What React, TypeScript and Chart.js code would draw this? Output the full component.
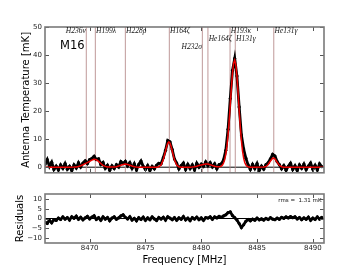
import React, { useEffect, useRef } from 'react';
import { Chart, registerables } from 'chart.js';

Chart.register(...registerables);

// ---- data ----
const FREQ_START = 8466.0; // MHz, first channel
const FREQ_STEP = 0.2; // MHz per channel

const DATA_TEMP = [
  1.0, 2.7, 0.3, 1.8, -0.8, 0.4, -1.0, 0.8, -0.4, 1.3,
  -0.7, 0.3, -1.2, 0.8, -0.3, 1.6, 0.1, 1.5, 2.3, 1.3,
  2.7, 3.1, 3.9, 2.7, 3.0, 1.0, 1.7, -0.4, 0.7, -1.1,
  0.5, -0.5, 0.9, 0.1, 2.0, 1.3, 2.1, 0.5, 1.6, -0.4,
  1.2, -1.0, 1.0, 2.2, 0.3, -0.8, 0.6, -1.2, 0.3, -0.6,
  0.7, 1.4, 1.2, 3.4, 6.0, 9.5, 9.0, 6.3, 2.9, 1.5,
  -0.6, 0.6, 1.5, -0.8, 1.0, -0.5, 0.8, -1.0, 1.4, 0.0,
  1.1, 0.3, 1.9, 0.5, 1.6, 0.1, 1.2, -0.6, 0.9, 1.2,
  2.6, 6.0, 13.5, 24.5, 34.5, 38.8, 32.5, 21.5, 11.5, 6.5,
  3.2, 0.8, -0.8, 1.0, -0.5, 1.3, -1.1, 0.4, -0.7, 0.9,
  1.6, 3.0, 4.6, 4.0, 2.0, 0.9, -0.6, 0.6, -1.1, 0.3,
  1.4, -0.8, 0.5, -1.2, 0.8, -0.4, 1.1, -0.9, 0.4, 1.5,
  -0.7, 0.7, -1.0, 1.2, 0.2,
];

const RESIDUALS = [
  -1.8, -2.5, -0.9, -2.2, -0.6, -1.0, 0.2, -0.5, 0.8, -0.3,
  0.5, -0.8, 0.9, 0.1, 1.2, -0.4, 0.6, -0.7, 0.3, 1.1,
  -0.2, 0.7, 1.4, -0.5, 0.4, -0.9, 0.8, -0.3, 0.5, -1.1,
  0.2, 0.9, -0.4, 0.3, 1.3, 1.9, 0.6, -0.2, 0.9, -0.8,
  0.1, -1.2, 0.4, -0.5, 0.7, -0.9, 0.3, -0.6, 0.8, -0.2,
  -1.0, 0.5, -0.3, 0.6, -0.8, 0.9, 0.2, -0.6, 0.4, -0.9,
  0.3, -0.4, 1.0, -0.7, 0.2, -1.1, 0.4, -0.3, 0.7, -0.6,
  0.3, -0.9, 0.5, 0.2, 0.9, -0.4, 0.8, 0.3, 1.1, 0.6,
  1.3, 1.9, 3.0, 3.4, 1.5, 0.4, -0.8, -2.6, -4.6, -3.2,
  -1.4, -0.5, -1.2, -0.3, -0.9, 0.2, -0.7, -0.2, -0.8, 0.1,
  -0.5, 0.4, -0.3, -0.6, 0.2, -0.4, 0.6, 0.1, 0.8, 0.3,
  1.0, 0.4, 0.9, -0.2, 0.5, -0.6, 0.3, -0.4, 0.7, -0.9,
  0.2, -0.5, 0.8, -0.3, 0.6,
];

const MODEL_FREQ = [
  8466.0, 8468.2, 8468.6, 8468.8, 8469.0, 8469.2, 8469.4, 8469.6, 8469.8, 8470.0,
  8470.2, 8470.4, 8470.5, 8470.6, 8470.8, 8471.0, 8471.2, 8471.4, 8471.6, 8471.8,
  8472.0, 8472.2, 8472.4, 8472.6, 8472.8, 8473.0, 8473.2, 8473.4, 8473.6, 8473.8,
  8474.0, 8474.2, 8474.4, 8474.6, 8475.8, 8476.0, 8476.2, 8476.4, 8476.6, 8476.8,
  8476.9, 8477.0, 8477.1, 8477.2, 8477.3, 8477.4, 8477.6, 8477.8, 8478.0, 8478.2,
  8478.4, 8479.0, 8479.2, 8479.4, 8479.6, 8479.8, 8480.0, 8480.2, 8480.4, 8480.6,
  8480.8, 8481.0, 8481.2, 8481.4, 8481.6, 8481.7, 8481.8, 8481.9, 8482.0, 8482.1,
  8482.2, 8482.3, 8482.4, 8482.5, 8482.6, 8482.7, 8482.8, 8482.9, 8483.0, 8483.1,
  8483.2, 8483.3, 8483.4, 8483.5, 8483.6, 8483.7, 8483.8, 8483.9, 8484.0, 8484.1,
  8484.2, 8484.4, 8484.6, 8485.6, 8485.8, 8486.0, 8486.2, 8486.4, 8486.5, 8486.6,
  8486.8, 8487.0, 8487.2, 8487.4, 8487.6, 8491.0,
];
const MODEL_TEMP = [
  0, 0, 0.04, 0.11, 0.26, 0.52, 0.87, 1.25, 1.64, 2.08,
  2.53, 2.79, 2.78, 2.64, 2.06, 1.31, 0.67, 0.28, 0.09, 0.03,
  0.03, 0.07, 0.19, 0.41, 0.71, 0.98, 1.1, 0.98, 0.71, 0.41,
  0.19, 0.07, 0.02, 0, 0, 0.02, 0.16, 0.8, 2.63, 5.78,
  7.39, 8.57, 9.0, 8.57, 7.39, 5.78, 2.63, 0.8, 0.16, 0.02,
  0, 0, 0.05, 0.15, 0.35, 0.6, 0.8, 0.95, 1.1, 1.1,
  0.9, 0.6, 0.32, 0.18, 0.16, 0.23, 0.39, 0.78, 1.49, 2.69,
  4.58, 7.42, 11.33, 16.4, 22.2, 28.3, 33.55, 37.1, 38.2, 36.5,
  32.4, 26.7, 20.4, 14.4, 9.41, 5.74, 3.23, 1.69, 0.81, 0.36,
  0.15, 0.02, 0, 0.05, 0.26, 0.95, 2.19, 3.21, 3.28, 3.0,
  1.78, 0.67, 0.16, 0.02, 0, 0,
];

const LINE_FREQS = [8469.7, 8470.51, 8473.2, 8477.14, 8480.1, 8480.6, 8482.58, 8483.05, 8486.5];
const LINE_NAMES = ['H236ν', 'H199λ', 'H228ρ', 'H164ζ', 'H232σ', 'He164ζ', 'H193κ', 'H131γ', 'He131γ'];

const X_TICKS = [8470, 8475, 8480, 8485, 8490];
const MAIN_Y_TICKS = [0, 10, 20, 30, 40, 50];
const RES_Y_TICKS = [-10, -5, 0, 5, 10];

const SOURCE_NAME = 'M16';
const RMS_TEXT = 'rms =  1.31 mK';
const MAIN_Y_TITLE = 'Antenna Temperature [mK]';
const RES_Y_TITLE = 'Residuals';
const X_TITLE = 'Frequency [MHz]';

// ---- layout / style (kept apart from the data) ----
const LABEL_ROW = [0, 0, 0, 0, 2, 1, 0, 1, 0];
const LABEL_ALIGN = ['right', 'left', 'left', 'left', 'right', 'left', 'left', 'left', 'left'];
const ROW_BASELINES = [33, 41, 49];
const X_MIN = 8466.0;
const X_MAX = 8491.0;
const MAIN_Y_MIN = -2;
const MAIN_Y_MAX = 50;
const RES_Y_MIN = -12.5;
const RES_Y_MAX = 12.5;

const FONT = 'DejaVu Sans';
const FRAME_COLOR = '#7a7a7a';
const TICK_COLOR = '#555';
const VLINE_COLOR = 'rgba(180,135,135,0.85)';

const FREQS = DATA_TEMP.map((_, i) => FREQ_START + i * FREQ_STEP);

const fmt = (v: number) => (v < 0 ? '\u2212' + Math.abs(v) : String(v));
const setTicks = (values: number[]) => (s: any) => {
  s.ticks = values.map((value) => ({ value }));
};

const frameTicks = {
  id: 'frameTicks',
  afterDatasetsDraw(chart: any) {
    const { ctx, chartArea: a, scales } = chart;
    const xs = scales.x;
    const ys = scales.y;
    ctx.save();
    ctx.strokeStyle = TICK_COLOR;
    ctx.lineWidth = 1;
    ctx.beginPath();
    xs.ticks.forEach((t: any) => {
      const px = Math.round(xs.getPixelForValue(t.value)) + 0.5;
      ctx.moveTo(px, a.bottom);
      ctx.lineTo(px, a.bottom - 4);
      ctx.moveTo(px, a.top);
      ctx.lineTo(px, a.top + 4);
    });
    ys.ticks.forEach((t: any) => {
      const py = Math.round(ys.getPixelForValue(t.value)) + 0.5;
      ctx.moveTo(a.left, py);
      ctx.lineTo(a.left + 4, py);
      ctx.moveTo(a.right, py);
      ctx.lineTo(a.right - 4, py);
    });
    ctx.stroke();
    ctx.strokeStyle = FRAME_COLOR;
    ctx.lineWidth = 1.6;
    ctx.strokeRect(a.left, a.top, a.right - a.left, a.bottom - a.top);
    ctx.restore();
  },
};

const mainTexts = {
  id: 'mainTexts',
  afterDraw(chart: any) {
    const { ctx, scales } = chart;
    const xs = scales.x;
    ctx.save();
    ctx.fillStyle = '#111';
    ctx.font = `italic 7.5px "Liberation Serif"`;
    ctx.textBaseline = 'alphabetic';
    LINE_FREQS.forEach((f, i) => {
      const px = xs.getPixelForValue(f);
      const right = LABEL_ALIGN[i] === 'right';
      ctx.textAlign = right ? 'right' : 'left';
      ctx.fillText(LINE_NAMES[i], right ? px - 0.5 : px + 0.7, ROW_BASELINES[LABEL_ROW[i]]);
    });
    ctx.font = `11.5px "${FONT}"`;
    ctx.textAlign = 'left';
    ctx.fillStyle = '#000';
    ctx.fillText(SOURCE_NAME, 60, 49);
    ctx.restore();
  },
};

const resTexts = {
  id: 'resTexts',
  afterDraw(chart: any) {
    const { ctx, chartArea: a } = chart;
    ctx.save();
    ctx.fillStyle = '#111';
    ctx.font = `5.5px "${FONT}"`;
    ctx.textAlign = 'right';
    ctx.textBaseline = 'alphabetic';
    ctx.fillText(RMS_TEXT, a.right - 2.5, a.top + 7.7);
    ctx.restore();
  },
};

export default function App() {
  const mainRef = useRef<HTMLCanvasElement>(null);
  const resRef = useRef<HTMLCanvasElement>(null);

  useEffect(() => {
    document.body.style.margin = '0';
    const spectrum = FREQS.map((x, i) => ({ x, y: DATA_TEMP[i] }));
    const model = MODEL_FREQ.map((x, i) => ({ x, y: MODEL_TEMP[i] }));
    const resid = FREQS.map((x, i) => ({ x, y: RESIDUALS[i] }));

    const tickFont = { family: FONT, size: 7 };
    const titleFont = { family: FONT, size: 10 };
    const noGrid = { display: false, drawTicks: false };

    const c1 = new Chart(mainRef.current as HTMLCanvasElement, {
      type: 'line',
      data: {
        datasets: [
          {
            data: [{ x: X_MIN, y: 0 }, { x: X_MAX, y: 0 }],
            borderColor: '#000',
            borderWidth: 1,
            pointRadius: 0,
            order: 4,
          },
          ...LINE_FREQS.map((f) => ({
            data: [{ x: f, y: MAIN_Y_MIN }, { x: f, y: MAIN_Y_MAX }],
            borderColor: VLINE_COLOR,
            borderWidth: 1,
            pointRadius: 0,
            order: 3,
          })),
          {
            data: spectrum,
            borderColor: '#000',
            backgroundColor: '#000',
            borderWidth: 2.8,
            pointRadius: 1.6,
            pointBorderWidth: 0,
            order: 2,
          },
          {
            data: model,
            borderColor: '#ee0000',
            borderWidth: 1.5,
            pointRadius: 0,
            order: 1,
          },
        ] as any,
      },
      options: {
        animation: false,
        responsive: false,
        events: [],
        layout: { padding: { top: 27, right: 36, left: 0, bottom: 0 } },
        plugins: { legend: { display: false }, tooltip: { enabled: false } },
        scales: {
          x: {
            type: 'linear',
            min: X_MIN,
            max: X_MAX,
            grid: noGrid,
            border: { display: false },
            ticks: { display: false },
            afterBuildTicks: setTicks(X_TICKS),
            afterFit: (s: any) => {
              s.height = 6;
            },
          },
          y: {
            min: MAIN_Y_MIN,
            max: MAIN_Y_MAX,
            grid: noGrid,
            border: { display: false },
            ticks: {
              padding: 3,
              color: '#222',
              font: tickFont,
              callback: (v: any) => fmt(Number(v)),
            },
            afterBuildTicks: setTicks(MAIN_Y_TICKS),
            title: {
              display: true,
              text: MAIN_Y_TITLE,
              color: '#000',
              font: titleFont,
              padding: { top: 20, bottom: 0 },
            },
            afterFit: (s: any) => {
              s.width = 45;
            },
          },
        },
      } as any,
      plugins: [frameTicks, mainTexts],
    });

    const c2 = new Chart(resRef.current as HTMLCanvasElement, {
      type: 'line',
      data: {
        datasets: [
          {
            data: [{ x: X_MIN, y: 0 }, { x: X_MAX, y: 0 }],
            borderColor: '#000',
            borderWidth: 1,
            pointRadius: 0,
            order: 2,
          },
          {
            data: resid,
            borderColor: '#000',
            backgroundColor: '#000',
            borderWidth: 2.8,
            pointRadius: 1.6,
            pointBorderWidth: 0,
            order: 1,
          },
        ] as any,
      },
      options: {
        animation: false,
        responsive: false,
        events: [],
        layout: { padding: { top: 14, right: 36, left: 0, bottom: 0 } },
        plugins: { legend: { display: false }, tooltip: { enabled: false } },
        scales: {
          x: {
            type: 'linear',
            min: X_MIN,
            max: X_MAX,
            grid: noGrid,
            border: { display: false },
            ticks: {
              padding: 1,
              maxRotation: 0,
              autoSkip: false,
              color: '#222',
              font: tickFont,
              callback: (v: any) => fmt(Number(v)),
            },
            afterBuildTicks: setTicks(X_TICKS),
            title: {
              display: true,
              text: X_TITLE,
              color: '#000',
              font: titleFont,
              padding: { top: 0, bottom: 4 },
            },
            afterFit: (s: any) => {
              s.height = 27;
            },
          },
          y: {
            min: RES_Y_MIN,
            max: RES_Y_MAX,
            grid: noGrid,
            border: { display: false },
            ticks: {
              padding: 3,
              color: '#222',
              font: tickFont,
              callback: (v: any) => fmt(Number(v)),
            },
            afterBuildTicks: setTicks(RES_Y_TICKS),
            title: {
              display: true,
              text: RES_Y_TITLE,
              color: '#000',
              font: titleFont,
              padding: { top: 14, bottom: 0 },
            },
            afterFit: (s: any) => {
              s.width = 45;
            },
          },
        },
      } as any,
      plugins: [frameTicks, resTexts],
    });

    return () => {
      c1.destroy();
      c2.destroy();
    };
  }, []);

  return (
    <div style={{ position: 'relative', width: 360, height: 270, background: '#fff' }}>
      <canvas
        ref={mainRef}
        width={360}
        height={180}
        style={{ position: 'absolute', left: 0, top: 0, width: 360, height: 180 }}
      />
      <canvas
        ref={resRef}
        width={360}
        height={90}
        style={{ position: 'absolute', left: 0, top: 180, width: 360, height: 90 }}
      />
    </div>
  );
}
